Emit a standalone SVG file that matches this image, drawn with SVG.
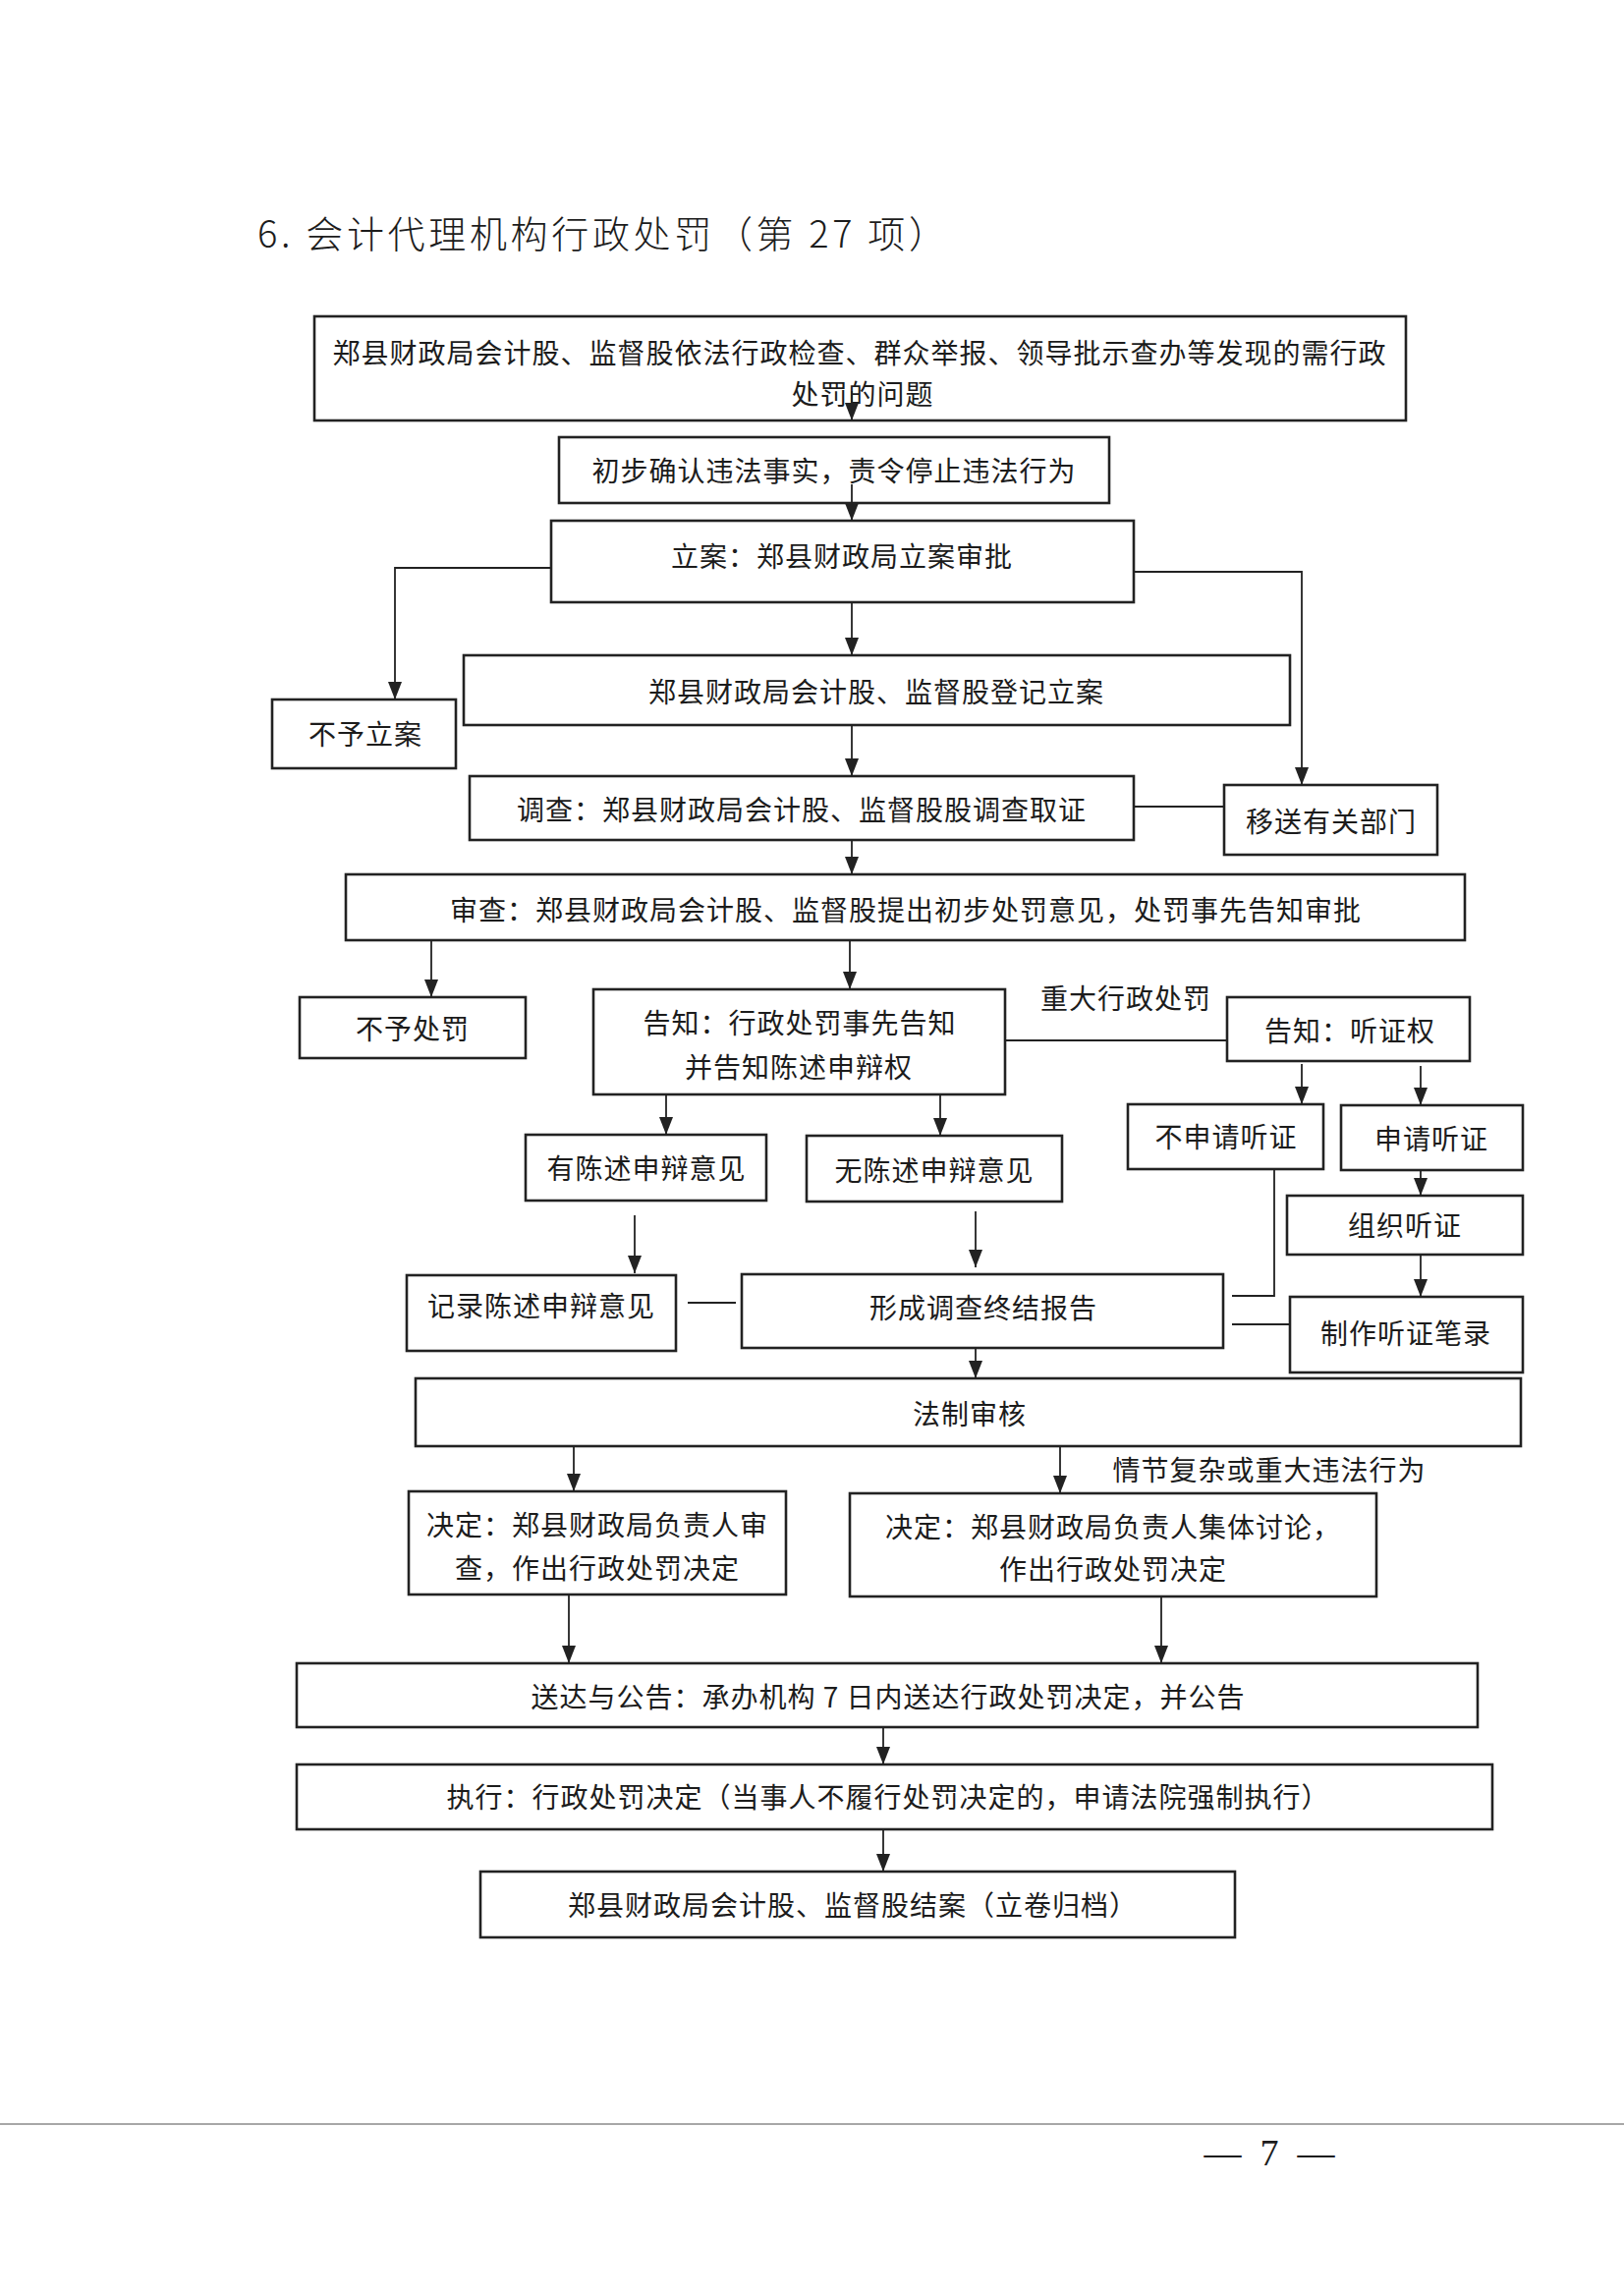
<svg xmlns="http://www.w3.org/2000/svg" width="1653" height="2336" viewBox="0 0 1653 2336">
<defs>
<marker id="ah" markerUnits="userSpaceOnUse" markerWidth="18" markerHeight="14" refX="18" refY="7" orient="auto">
<path d="M0,0 L18,7 L0,14 z" fill="#222"/>
</marker>
<style>
.box rect{fill:#fff;stroke:#222;stroke-width:2.6}
.t{font-family:"Noto Sans CJK SC","Noto Sans",sans-serif;font-size:28px;fill:#1c1c1c;text-anchor:middle;letter-spacing:1px}
.c line,.c polyline{stroke:#222;stroke-width:1.8;fill:none}
.a{marker-end:url(#ah)}
.title{font-family:"Noto Sans CJK SC","Noto Sans",sans-serif;font-size:38px;font-weight:300;fill:#1c1c1c}
.pn{font-family:"Liberation Serif",serif;font-size:38px;fill:#1c1c1c;text-anchor:middle}
</style>
</defs>
<rect x="0" y="0" width="1653" height="2336" fill="#fff"/>
<text class="title" x="262" y="252" textLength="701" lengthAdjust="spacing">6. 会计代理机构行政处罚（第 27 项）</text>

<g id="n1" class="box"><rect x="320" y="322" width="1111" height="106"/>
<text class="t" x="875" y="370">郑县财政局会计股、监督股依法行政检查、群众举报、领导批示查办等发现的需行政</text>
<text class="t" x="878" y="412">处罚的问题</text></g>
<g id="n2" class="box"><rect x="569" y="445" width="560" height="67"/>
<text class="t" x="849" y="490">初步确认违法事实，责令停止违法行为</text></g>
<g id="n3" class="box"><rect x="561" y="530" width="593" height="83"/>
<text class="t" x="857" y="577">立案：郑县财政局立案审批</text></g>
<g id="n4" class="box"><rect x="277" y="712" width="187" height="70"/>
<text class="t" x="372" y="758">不予立案</text></g>
<g id="n5" class="box"><rect x="472" y="667" width="841" height="71"/>
<text class="t" x="892" y="715">郑县财政局会计股、监督股登记立案</text></g>
<g id="n6" class="box"><rect x="478" y="790" width="676" height="65"/>
<text class="t" x="816" y="835">调查：郑县财政局会计股、监督股股调查取证</text></g>
<g id="n7" class="box"><rect x="1246" y="799" width="217" height="71"/>
<text class="t" x="1355" y="847">移送有关部门</text></g>
<g id="n8" class="box"><rect x="352" y="890" width="1139" height="67"/>
<text class="t" x="922" y="937">审查：郑县财政局会计股、监督股提出初步处罚意见，处罚事先告知审批</text></g>
<g id="n9" class="box"><rect x="305" y="1015" width="230" height="62"/>
<text class="t" x="420" y="1058">不予处罚</text></g>
<g id="n10" class="box"><rect x="604" y="1007" width="419" height="107"/>
<text class="t" x="814" y="1052">告知：行政处罚事先告知</text>
<text class="t" x="813" y="1097">并告知陈述申辩权</text></g>
<g id="n11" class="box"><rect x="1249" y="1015" width="247" height="65"/>
<text class="t" x="1374" y="1060">告知：听证权</text></g>
<g id="n12" class="box"><rect x="1148" y="1124" width="199" height="66"/>
<text class="t" x="1248" y="1168">不申请听证</text></g>
<g id="n13" class="box"><rect x="1365" y="1125" width="185" height="66"/>
<text class="t" x="1457" y="1170">申请听证</text></g>
<g id="n14" class="box"><rect x="1310" y="1217" width="240" height="60"/>
<text class="t" x="1430" y="1258">组织听证</text></g>
<g id="n15" class="box"><rect x="535" y="1155" width="245" height="67"/>
<text class="t" x="658" y="1200">有陈述申辩意见</text></g>
<g id="n16" class="box"><rect x="821" y="1156" width="260" height="67"/>
<text class="t" x="951" y="1202">无陈述申辩意见</text></g>
<g id="n17" class="box"><rect x="414" y="1298" width="274" height="77"/>
<text class="t" x="551" y="1340">记录陈述申辩意见</text></g>
<g id="n18" class="box"><rect x="755" y="1297" width="490" height="75"/>
<text class="t" x="1001" y="1342">形成调查终结报告</text></g>
<g id="n19" class="box"><rect x="1313" y="1320" width="237" height="77"/>
<text class="t" x="1431" y="1368">制作听证笔录</text></g>
<g id="n20" class="box"><rect x="423" y="1403" width="1125" height="69"/>
<text class="t" x="987" y="1450">法制审核</text></g>
<g id="n21" class="box"><rect x="416" y="1518" width="384" height="105"/>
<text class="t" x="608" y="1563">决定：郑县财政局负责人审</text>
<text class="t" x="608" y="1607">查，作出行政处罚决定</text></g>
<g id="n22" class="box"><rect x="865" y="1520" width="536" height="105"/>
<text class="t" x="1133" y="1565">决定：郑县财政局负责人集体讨论，</text>
<text class="t" x="1133" y="1608">作出行政处罚决定</text></g>
<g id="n23" class="box"><rect x="302" y="1693" width="1202" height="65"/>
<text class="t" x="904" y="1738">送达与公告：承办机构 7 日内送达行政处罚决定，并公告</text></g>
<g id="n24" class="box"><rect x="302" y="1796" width="1217" height="66"/>
<text class="t" x="904" y="1840">执行：行政处罚决定（当事人不履行处罚决定的，申请法院强制执行）</text></g>
<g id="n25" class="box"><rect x="489" y="1905" width="768" height="67"/>
<text class="t" x="868" y="1950">郑县财政局会计股、监督股结案（立卷归档）</text></g>

<g id="connectors" class="c">
<line class="a" x1="867" y1="398" x2="867" y2="428"/>
<line class="a" x1="867" y1="493" x2="867" y2="530"/>
<polyline class="a" points="561,578 402,578 402,712"/>
<polyline class="a" points="1154,582 1325,582 1325,799"/>
<line class="a" x1="867" y1="613" x2="867" y2="667"/>
<line class="a" x1="867" y1="738" x2="867" y2="790"/>
<line x1="1154" y1="821" x2="1246" y2="821"/>
<line class="a" x1="867" y1="855" x2="867" y2="890"/>
<line class="a" x1="439" y1="957" x2="439" y2="1015"/>
<line class="a" x1="865" y1="957" x2="865" y2="1007"/>
<line x1="1023" y1="1059" x2="1249" y2="1059"/>
<line class="a" x1="1325" y1="1083" x2="1325" y2="1124"/>
<line class="a" x1="1446" y1="1085" x2="1446" y2="1125"/>
<line class="a" x1="1446" y1="1191" x2="1446" y2="1217"/>
<line class="a" x1="1446" y1="1277" x2="1446" y2="1320"/>
<polyline points="1297,1190 1297,1319 1254,1319"/>
<line x1="1254" y1="1348" x2="1313" y2="1348"/>
<line class="a" x1="678" y1="1114" x2="678" y2="1155"/>
<line class="a" x1="957" y1="1114" x2="957" y2="1156"/>
<line class="a" x1="646" y1="1237" x2="646" y2="1296"/>
<line class="a" x1="993" y1="1233" x2="993" y2="1290"/>
<line x1="700" y1="1326" x2="749" y2="1326"/>
<line class="a" x1="993" y1="1372" x2="993" y2="1403"/>
<line class="a" x1="584" y1="1472" x2="584" y2="1518"/>
<line class="a" x1="1079" y1="1472" x2="1079" y2="1520"/>
<line class="a" x1="579" y1="1623" x2="579" y2="1693"/>
<line class="a" x1="1182" y1="1625" x2="1182" y2="1693"/>
<line class="a" x1="899" y1="1758" x2="899" y2="1796"/>
<line class="a" x1="899" y1="1862" x2="899" y2="1905"/>
<text class="t" x="1146" y="1027">重大行政处罚</text>
<text class="t" x="1292" y="1507">情节复杂或重大违法行为</text>
</g>

<line x1="0" y1="2162" x2="1653" y2="2162" stroke="#8a8a8a" stroke-width="1.5"/>
<text class="pn" x="1292" y="2204" xml:space="preserve">—  7  —</text>
</svg>
